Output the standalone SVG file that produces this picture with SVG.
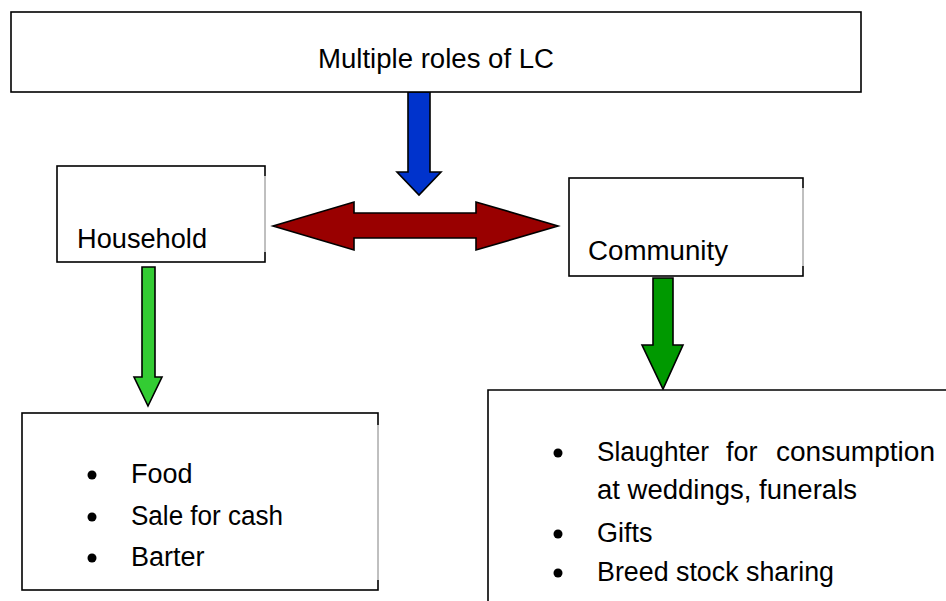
<svg xmlns="http://www.w3.org/2000/svg" width="946" height="601" viewBox="0 0 946 601">
  <style>
    .box { fill: #ffffff; stroke: #000000; stroke-width: 1.6; }
    .edge { stroke: #ffffff; stroke-width: 2.2; }
    .edge-g { stroke: #808080; stroke-width: 1; }
    .lbl { font-family: "Liberation Sans", Arial, sans-serif; font-size: 27px; fill: #000000; }
    .arrow { stroke: #000000; stroke-width: 1.6; stroke-linejoin: miter; }
    .dot { fill: #000000; }
  </style>

  <rect width="946" height="601" fill="#ffffff"/>

  <!-- connectors -->
  <g id="connectors">
    <!-- top box down to the two-way arrow -->
    <polygon class="arrow" fill="#0033cc" points="408,92 430,92 430,172 441,172 419,195 397,172 408,172"/>
    <!-- two-way arrow between household and community -->
    <polygon class="arrow" fill="#990000" points="273,226 354,202 354,213 476,213 476,202 558,226 476,250 476,238 354,238 354,250"/>
    <!-- household down to its list -->
    <polygon class="arrow" fill="#33cc33" points="142,267 155,267 155,377 162,377 148,406 134,377 142,377"/>
    <!-- community down to its list -->
    <polygon class="arrow" fill="#009900" points="653,278 673,278 673,345 683,345 663,389 642,345 653,345"/>
  </g>

  <!-- top node -->
  <g id="node-roles">
    <rect class="box" x="11" y="12" width="850" height="80"/>
    <text class="lbl" x="318" y="68" textLength="236" lengthAdjust="spacingAndGlyphs">Multiple roles of LC</text>
  </g>

  <!-- household node -->
  <g id="node-household">
    <rect class="box" x="57" y="166" width="208" height="96"/>
    <line class="edge" x1="265" y1="176" x2="265" y2="252"/>
    <line class="edge-g" x1="265" y1="176" x2="265" y2="252"/>
    <text class="lbl" x="77" y="248" textLength="130" lengthAdjust="spacingAndGlyphs">Household</text>
  </g>

  <!-- community node -->
  <g id="node-community">
    <rect class="box" x="569" y="178" width="234" height="98"/>
    <line class="edge" x1="803" y1="188" x2="803" y2="266"/>
    <line class="edge-g" x1="803" y1="188" x2="803" y2="266"/>
    <text class="lbl" x="588" y="260" textLength="140" lengthAdjust="spacingAndGlyphs">Community</text>
  </g>

  <!-- household uses -->
  <g id="node-household-uses">
    <rect class="box" x="22" y="413" width="356" height="177"/>
    <line class="edge" x1="378" y1="425" x2="378" y2="580"/>
    <line class="edge-g" x1="378" y1="425" x2="378" y2="580"/>
    <circle class="dot" cx="92" cy="475" r="4.5"/>
    <text class="lbl" x="131" y="483">Food</text>
    <circle class="dot" cx="92" cy="517" r="4.5"/>
    <text class="lbl" x="131" y="525" textLength="152" lengthAdjust="spacingAndGlyphs">Sale for cash</text>
    <circle class="dot" cx="92" cy="558" r="4.5"/>
    <text class="lbl" x="131" y="566">Barter</text>
  </g>

  <!-- community uses -->
  <g id="node-community-uses">
    <path d="M946,390 H488 V601" fill="#ffffff" stroke="#000000" stroke-width="1.6"/>
    <circle class="dot" cx="558" cy="453" r="4.5"/>
    <text class="lbl" x="597" y="461" textLength="112" lengthAdjust="spacingAndGlyphs">Slaughter</text>
    <text class="lbl" x="726" y="461">for</text>
    <text class="lbl" x="776" y="461" textLength="159" lengthAdjust="spacingAndGlyphs">consumption</text>
    <text class="lbl" x="597" y="499" textLength="260" lengthAdjust="spacingAndGlyphs">at weddings, funerals</text>
    <circle class="dot" cx="558" cy="534" r="4.5"/>
    <text class="lbl" x="597" y="542">Gifts</text>
    <circle class="dot" cx="558" cy="573" r="4.5"/>
    <text class="lbl" x="597" y="581" textLength="237" lengthAdjust="spacingAndGlyphs">Breed stock sharing</text>
  </g>
</svg>
